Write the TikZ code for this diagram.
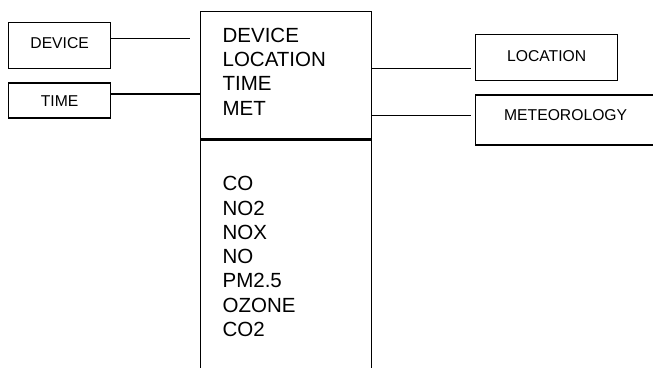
\documentclass[tikz,border=0pt]{standalone}
\usepackage{fontspec}
\setmainfont{Liberation Sans}
\usetikzlibrary{positioning}

\begin{document}
\begin{tikzpicture}[
  x=1pt, y=-1pt,
  line width=1.3pt,
  tag/.style={draw, inner sep=0pt, font=\fontsize{15.7}{18}\selectfont},
  rec/.style={draw, minimum width=171pt, inner sep=0pt, text width=127pt,
    align=left, font=\fontsize{20.5}{24.3}\selectfont},
]
  \clip (0,0) rectangle (653,367);

  % central record
  \node[rec, minimum height=127pt, text depth=80.3pt, anchor=north west] (hdr) at (200,11)
    {DEVICE\\LOCATION\\TIME\\MET};
  \node[rec, minimum height=237pt, text depth=149.8pt, below=0pt of hdr] (meas)
    {CO\\NO2\\NOX\\NO\\PM2.5\\OZONE\\CO2};

  % left tables
  \node[tag, minimum width=102pt, text height=26.3pt, text depth=19.7pt, anchor=north west] (dev) at (8,22) {DEVICE};
  \node[tag, minimum width=102pt, text height=24pt, text depth=11pt, below=13pt of dev] (time) {TIME};

  % right tables
  \node[tag, minimum width=142pt, text height=26.7pt, text depth=19.3pt, anchor=north west] (loc) at (475,34) {LOCATION};
  \node[tag, minimum width=180pt, text height=25.3pt, text depth=24.7pt, below right=13pt and 0pt of loc.south west] (met) {METEOROLOGY};

  \draw[shorten >=10pt] ([yshift=7pt]dev.east) -- ([yshift=7pt]dev.east -| hdr.west);
  \draw ([yshift=6.5pt]time.east) -- ([yshift=6.5pt]time.east -| hdr.west);
  \draw[shorten >=4pt] ([yshift=6.5pt]hdr.east) -- ([yshift=6.5pt]hdr.east -| loc.west);
  \draw[shorten >=4pt] ([yshift=-40.5pt]hdr.east) -- ([yshift=-40.5pt]hdr.east -| met.west);
\end{tikzpicture}
\end{document}
